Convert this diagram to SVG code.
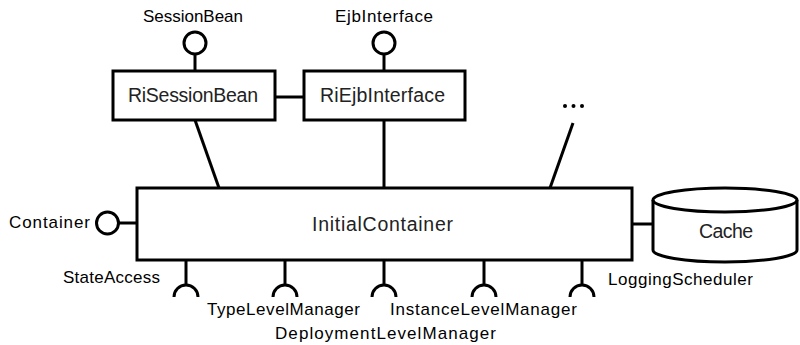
<svg xmlns="http://www.w3.org/2000/svg" width="800" height="345" viewBox="0 0 800 345">
  <style>
    .box { fill: #fff; stroke: #000; stroke-width: 3; }
    .ln { fill: none; stroke: #000; stroke-width: 3; }
    .lbl { font-family: "Liberation Sans", Arial, sans-serif; font-size: 17px; fill: #000; }
    .big { font-family: "Liberation Sans", Arial, sans-serif; font-size: 19.5px; fill: #222; }
  </style>

  <!-- connectors -->
  <g id="connectors">
    <line class="ln" x1="195" y1="53" x2="195" y2="71"/>
    <line class="ln" x1="384" y1="53" x2="384" y2="71"/>
    <line class="ln" x1="275" y1="97" x2="304" y2="97"/>
    <line class="ln" x1="195" y1="120" x2="219" y2="188"/>
    <line class="ln" x1="384" y1="120" x2="384" y2="188"/>
    <line class="ln" x1="573" y1="123" x2="550" y2="188"/>
    <line class="ln" x1="632" y1="224" x2="653" y2="224"/>
    <line class="ln" x1="118" y1="223" x2="137" y2="223"/>
    <line class="ln" x1="186" y1="261" x2="186" y2="286"/>
    <line class="ln" x1="285" y1="261" x2="285" y2="286"/>
    <line class="ln" x1="384" y1="261" x2="384" y2="286"/>
    <line class="ln" x1="484" y1="261" x2="484" y2="286"/>
    <line class="ln" x1="582" y1="261" x2="582" y2="286"/>
  </g>

  <!-- provided interfaces -->
  <g id="SessionBean">
    <circle class="box" cx="195" cy="43" r="11"/>
    <text class="lbl" x="193" y="22" text-anchor="middle" textLength="100">SessionBean</text>
  </g>
  <g id="EjbInterface">
    <circle class="box" cx="384" cy="43" r="11"/>
    <text class="lbl" x="384" y="22" text-anchor="middle" textLength="98">EjbInterface</text>
  </g>
  <g id="Container">
    <circle class="box" cx="107.5" cy="223" r="11"/>
    <text class="lbl" x="9" y="228" textLength="81">Container</text>
  </g>

  <!-- components -->
  <g id="RiSessionBean">
    <rect class="box" x="113" y="71" width="162" height="49"/>
    <text class="big" x="128" y="102" textLength="130">RiSessionBean</text>
  </g>
  <g id="RiEjbInterface">
    <rect class="box" x="304" y="71" width="161" height="49"/>
    <text class="big" x="320" y="102" textLength="125">RiEjbInterface</text>
  </g>
  <g id="InitialContainer">
    <rect class="box" x="137" y="188" width="495" height="72"/>
    <text class="big" x="312" y="231" textLength="141">InitialContainer</text>
  </g>
  <g id="more">
    <circle cx="565" cy="106" r="2"/>
    <circle cx="573.5" cy="106" r="2"/>
    <circle cx="582" cy="106" r="2"/>
  </g>

  <!-- data store -->
  <g id="Cache">
    <path class="box" d="M653,200 L653,250 A72,12 0 0 0 797,250 L797,200 A72,12 0 0 0 653,200 Z"/>
    <path class="ln" d="M653,200 A72,12 0 0 0 797,200"/>
    <text class="big" x="699" y="238" textLength="54">Cache</text>
  </g>

  <!-- required interfaces -->
  <g id="StateAccess">
    <path class="ln" d="M174,297 A12,12 0 0 1 198,297"/>
    <text class="lbl" x="63" y="283" textLength="97">StateAccess</text>
  </g>
  <g id="TypeLevelManager">
    <path class="ln" d="M273,297 A12,12 0 0 1 297,297"/>
    <text class="lbl" x="207" y="315" textLength="153">TypeLevelManager</text>
  </g>
  <g id="DeploymentLevelManager">
    <path class="ln" d="M372,297 A12,12 0 0 1 396,297"/>
    <text class="lbl" x="275" y="339" textLength="221">DeploymentLevelManager</text>
  </g>
  <g id="InstanceLevelManager">
    <path class="ln" d="M472,297 A12,12 0 0 1 496,297"/>
    <text class="lbl" x="390" y="315" textLength="187">InstanceLevelManager</text>
  </g>
  <g id="LoggingScheduler">
    <path class="ln" d="M570,297 A12,12 0 0 1 594,297"/>
    <text class="lbl" x="608" y="285" textLength="145">LoggingScheduler</text>
  </g>
</svg>
